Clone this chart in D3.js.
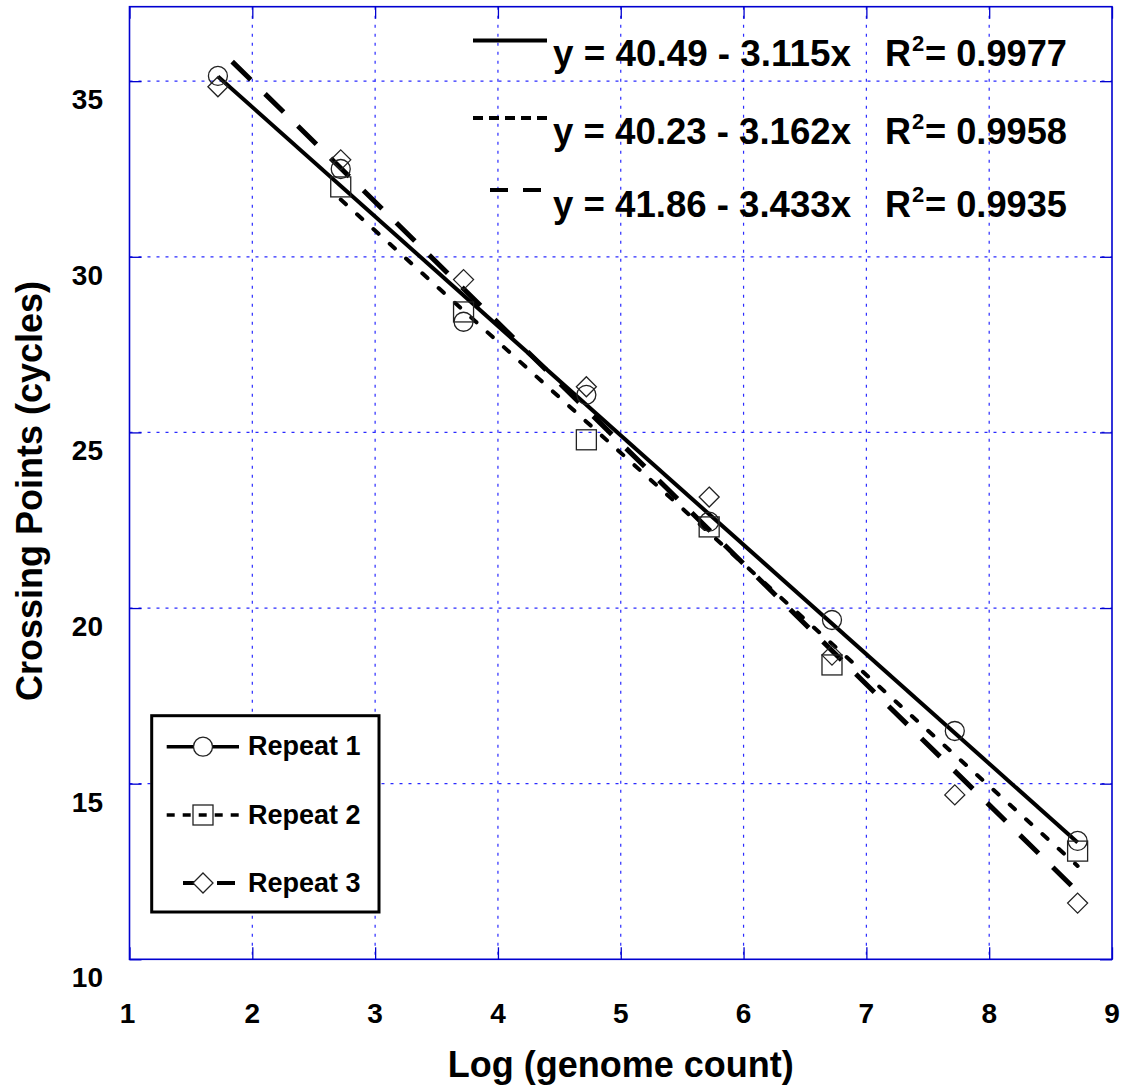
<!DOCTYPE html>
<html><head><meta charset="utf-8">
<script src="https://cdn.jsdelivr.net/npm/d3@7"></script>
<style>
body{margin:0;background:#fff}
svg{display:block}
text{font-family:"Liberation Sans",Arial,sans-serif;font-weight:bold;fill:#000}
</style>
</head><body><svg id="c" width="1126" height="1088"></svg>
<script>
// ---- data ----
const logCount = [1.72, 2.72, 3.72, 4.72, 5.72, 6.72, 7.72, 8.72];
const repeat1 = [35.15, 32.5, 28.15, 26.07, 22.46, 19.66, 16.5, 13.37];
const repeat2 = [null, 31.99, 28.43, 24.79, 22.31, 18.38, null, 13.08];
const repeat3 = [34.84, 32.76, 29.35, 26.3, 23.16, 18.66, 14.68, 11.6];
const seriesNames = ["Repeat 1", "Repeat 2", "Repeat 3"];
const fitIntercept = [40.49, 40.23, 41.86];
const fitSlope = [3.115, 3.162, 3.433];
const fitR2 = ["0.9977", "0.9958", "0.9935"];
const fitFrom = [1.72, 2.72, 1.72];
const fitTo = [8.72, 8.72, 8.72];
const xTicks = [1, 2, 3, 4, 5, 6, 7, 8, 9];
const yTicks = [10, 15, 20, 25, 30, 35];
const xTitle = "Log (genome count)";
const yTitle = "Crossing Points (cycles)";

// ---- layout ----
const L = 129.5, R = 1112, T = 6.7, B = 959.3;
const svg = d3.select("#c");
const x = d3.scaleLinear().domain([1, 9]).range([L, R]);
const y = d3.scaleLinear().domain([10, 37.12]).range([B, T]);
const gridColor = "#2a2aff";
const frameColor = "#0000d0";

// grid
const g = svg.append("g");
g.selectAll(".vg").data(xTicks.slice(1, -1)).join("line")
  .attr("x1", d => x(d)).attr("x2", d => x(d)).attr("y1", T).attr("y2", B)
  .attr("stroke", gridColor).attr("stroke-width", 1.2).attr("stroke-dasharray", "3,6");
g.selectAll(".hg").data(yTicks.slice(1)).join("line")
  .attr("y1", d => y(d)).attr("y2", d => y(d)).attr("x1", L).attr("x2", R)
  .attr("stroke", gridColor).attr("stroke-width", 1.2).attr("stroke-dasharray", "3,6");

// axes with inner ticks
const axB = d3.axisBottom(x).tickValues(xTicks).tickSize(-12).tickFormat("");
const axT = d3.axisTop(x).tickValues(xTicks).tickSize(-12).tickFormat("");
const axL = d3.axisLeft(y).tickValues(yTicks).tickSize(-12).tickFormat("");
const axR = d3.axisRight(y).tickValues(yTicks).tickSize(-12).tickFormat("");
[[axB, `translate(0,${B})`], [axT, `translate(0,${T})`], [axL, `translate(${L},0)`], [axR, `translate(${R},0)`]]
  .forEach(([ax, tr]) => {
    const a = svg.append("g").attr("transform", tr).call(ax);
    a.selectAll("line").attr("stroke", frameColor).attr("stroke-width", 1.3);
    a.select(".domain").remove();
  });
svg.append("rect").attr("x", L).attr("y", T).attr("width", R - L).attr("height", B - T)
  .attr("fill", "none").attr("stroke", frameColor).attr("stroke-width", 1.6);

// tick labels
svg.selectAll(".xl").data(xTicks).join("text")
  .attr("x", d => x(d) - (d === 1 ? 2 : 0)).attr("y", B + 64)
  .attr("text-anchor", "middle").attr("font-size", 28).text(d => d);
svg.selectAll(".yl").data(yTicks).join("text")
  .attr("x", 103).attr("y", d => y(d) + 28)
  .attr("text-anchor", "end").attr("font-size", 28).text(d => d);

// titles
svg.append("text").attr("x", (L + R) / 2).attr("y", 1077).attr("text-anchor", "middle")
  .attr("font-size", 36).text(xTitle);
svg.append("text").attr("transform", "translate(42,491) rotate(-90)").attr("text-anchor", "middle")
  .attr("font-size", 36).text(yTitle);

// series styles
const lineStyle = [
  {w: 4, dash: null, cap: "butt", off: 0},
  {w: 4, dash: "7,15", cap: "round", off: 0},
  {w: 5, dash: "26,20", cap: "butt", off: 26}
];
const series = [repeat1, repeat2, repeat3];

// fit lines
const lineGen = d3.line().x(d => x(d[0])).y(d => y(d[1]));
series.forEach((s, i) => {
  const pts = [fitFrom[i], fitTo[i]].map(v => [v, fitIntercept[i] - fitSlope[i] * v]);
  const p = svg.append("path").attr("d", lineGen(pts)).attr("fill", "none")
    .attr("stroke", "#000").attr("stroke-width", lineStyle[i].w)
    .attr("stroke-linecap", lineStyle[i].cap);
  if (lineStyle[i].dash) p.attr("stroke-dasharray", lineStyle[i].dash).attr("stroke-dashoffset", lineStyle[i].off);
});

// markers
function marker(sel, type, cx, cy) {
  if (type === 0) sel.append("circle").attr("cx", cx).attr("cy", cy).attr("r", 9.5);
  else if (type === 1) sel.append("rect").attr("x", cx - 10).attr("y", cy - 10).attr("width", 20).attr("height", 20);
  else sel.append("path").attr("d", `M${cx},${cy - 10}L${cx + 10},${cy}L${cx},${cy + 10}L${cx - 10},${cy}Z`);
}
const mg = svg.append("g").attr("fill", "none").attr("stroke", "#222").attr("stroke-width", 1.3);
series.forEach((s, i) => {
  s.forEach((v, j) => { if (v !== null) marker(mg, i, x(logCount[j]), y(v)); });
});

// equations panel
const eqLineY = [40.5, 118, 190];
const eqBase = [66, 144, 217];
const eqSample = [
  {x1: 473, x2: 547, dash: null},
  {x1: 473, x2: 547, dash: "10,6"},
  {x1: 490, x2: 541, dash: "18,15"}
];
fitIntercept.forEach((a, i) => {
  const s = svg.append("line").attr("x1", eqSample[i].x1).attr("x2", eqSample[i].x2)
    .attr("y1", eqLineY[i]).attr("y2", eqLineY[i]).attr("stroke", "#000").attr("stroke-width", 4);
  if (eqSample[i].dash) s.attr("stroke-dasharray", eqSample[i].dash);
  const eg = svg.append("g").attr("transform", `translate(0,${eqBase[i]})`);
  eg.append("text").attr("x", 553).attr("y", 0).attr("font-size", 36)
    .attr("textLength", 298).attr("lengthAdjust", "spacingAndGlyphs")
    .text(`y = ${a.toFixed(2)} - ${fitSlope[i].toFixed(3)}x`);
  eg.append("text").attr("x", 885).attr("y", 0).attr("font-size", 36).text("R");
  eg.append("text").attr("x", 912).attr("y", -15).attr("font-size", 22).text("2");
  eg.append("text").attr("x", 925).attr("y", 0).attr("font-size", 36)
    .attr("textLength", 142).attr("lengthAdjust", "spacingAndGlyphs").text(`= ${fitR2[i]}`);
});

// legend
svg.append("rect").attr("x", 151.7).attr("y", 715.7).attr("width", 227.3).attr("height", 196.3)
  .attr("fill", "#fff").attr("stroke", "#000").attr("stroke-width", 3);
const legY = [746.7, 815, 883];
const legLine = [
  {x1: 166.7, x2: 239, dash: null, w: 3.5},
  {x1: 166.7, x2: 240, dash: "8,8", w: 3.5},
  {x1: 183, x2: 235, dash: "12,22,20", w: 4}
];
const legFill = ["#fff", "none", "#fff"];
seriesNames.forEach((n, i) => {
  const l = svg.append("line").attr("x1", legLine[i].x1).attr("x2", legLine[i].x2)
    .attr("y1", legY[i]).attr("y2", legY[i]).attr("stroke", "#000").attr("stroke-width", legLine[i].w);
  if (legLine[i].dash) l.attr("stroke-dasharray", legLine[i].dash);
  const lg = svg.append("g").attr("fill", legFill[i]).attr("stroke", "#222").attr("stroke-width", 1.3);
  marker(lg, i, 203, legY[i]);
  svg.append("text").attr("x", 248).attr("y", legY[i] + 8.5).attr("font-size", 27).text(n);
});
</script>
</body></html>
